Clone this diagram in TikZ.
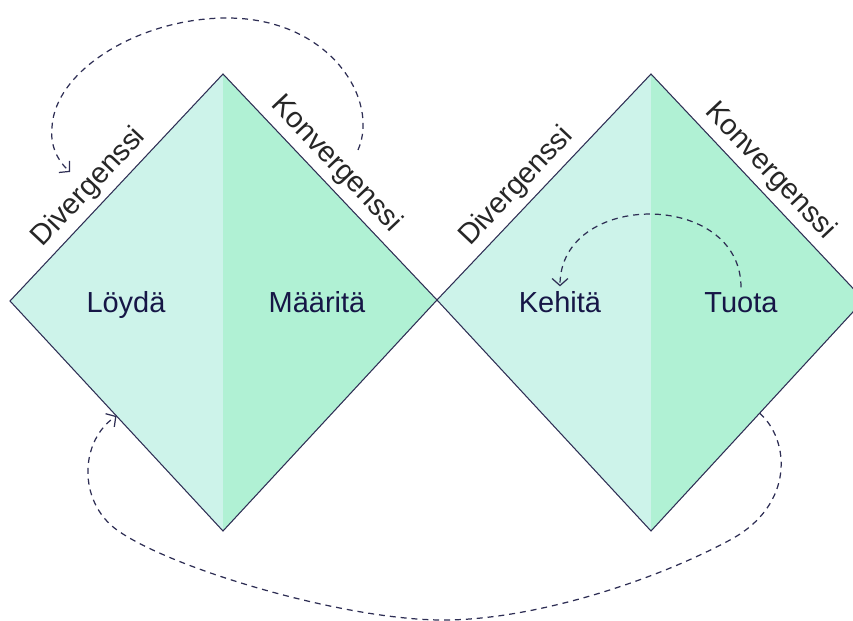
\documentclass[tikz,border=0pt]{standalone}
\usepackage{fontspec}
\setmainfont{Liberation Sans}
\usetikzlibrary{calc,arrows.meta}
\definecolor{leftmint}{RGB}{205,243,234}
\definecolor{rightmint}{RGB}{176,241,212}
\definecolor{edgeblue}{RGB}{46,46,84}
\definecolor{textblue}{RGB}{22,22,70}
\tikzset{
  phasetext/.style={font=\fontsize{16.5}{20}\selectfont, text=textblue, anchor=base, inner sep=3pt},
  sidetext/.style={font=\fontsize{16.5}{20}\selectfont, text=black!85, sloped, above, inner sep=3.5pt},
  flowarrow/.style={-{Straight Barb[length=4pt,width=9pt]}, edgeblue, line width=0.7pt, dash pattern=on 3.4pt off 2.8pt}
}
\begin{document}
\begin{tikzpicture}[x=0.02cm, y=-0.02cm]
\useasboundingbox (0,0) rectangle (853,621);
% corners of the two diamonds
\coordinate (L1) at (10,301);
\coordinate (T1) at (223,74);
\coordinate (R1) at (437,300);
\coordinate (B1) at (223,531);
\coordinate (L2) at (437,300);
\coordinate (T2) at (651,74);
\coordinate (R2) at (864,300);
\coordinate (B2) at (651,531);
\fill[leftmint] (L1) -- (T1) -- (B1) -- cycle;
\fill[rightmint] (T1) -- (R1) -- (B1) -- cycle;
\fill[leftmint] (L2) -- (T2) -- (B2) -- cycle;
\fill[rightmint] (T2) -- (R2) -- (B2) -- cycle;
\draw[edgeblue, line width=0.6pt] (L1) -- (T1) -- (R1) -- (B1) -- cycle;
\draw[edgeblue, line width=0.6pt] (L2) -- (T2) -- (R2) -- (B2) -- cycle;
% side labels
\path (L1) -- (T1) node[sidetext, pos=0.44] (div1) {Divergenssi};
\path (T1) -- (R1) node[sidetext, pos=0.46] (kon1) {Konvergenssi};
\path (L2) -- (T2) node[sidetext, pos=0.44] (div2) {Divergenssi};
\path (T2) -- (R2) node[sidetext, pos=0.49] (kon2) {Konvergenssi};
% phases
\node[phasetext] (loyda) at (126,313) {Löydä};
\node[phasetext] (maarita) at (317,313) {Määritä};
\node[phasetext] (kehita) at (560,313) {Kehitä};
\node[phasetext] (tuota) at (741,313) {Tuota};
% loops
\coordinate (ylos) at (358,150);
\coordinate (alas) at (70,172);
\coordinate (lahto) at ($(R2)!0.49!(B2)$);
\coordinate (paluu) at ($(L1)!0.5!(B1)$);
\draw[flowarrow] (ylos) .. controls (380,100) and (330,18) .. (227,18)
  .. controls (140,18) and (55,70) .. (52,127)
  .. controls (50,145) and (57,160) .. (alas);
\draw[flowarrow] (tuota.north) .. controls (741,190) and (560,190) .. (kehita.north);
\draw[flowarrow] (lahto) .. controls (790,440) and (795,505) .. (730,540)
  .. controls (652,582) and (530,621) .. (440,620)
  .. controls (340,619) and (170,568) .. (117,530)
  .. controls (77,501) and (80,440) .. (paluu);
\end{tikzpicture}
\end{document}
